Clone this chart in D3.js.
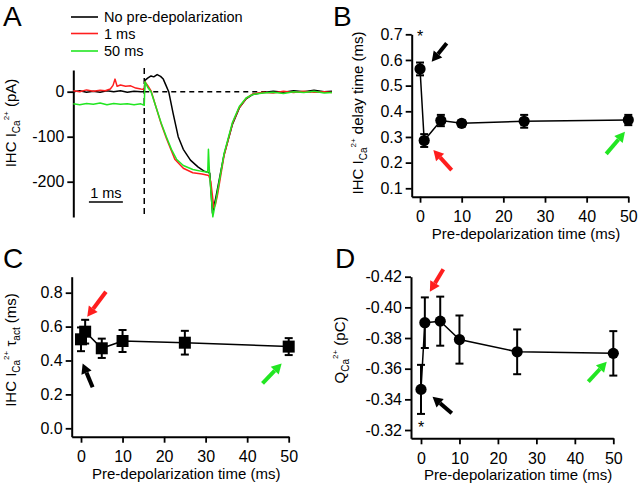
<!DOCTYPE html>
<html><head><meta charset="utf-8">
<script src="https://cdn.jsdelivr.net/npm/d3@7"></script>
<style>
html,body{margin:0;padding:0;background:#fff;}
svg text{font-family:'Liberation Sans',Arial,sans-serif;fill:#000;}
</style>
</head><body>
<svg id="chart" width="640" height="488"></svg>
<script>
// ---------- Panel A data: traces [time ms, current pA] ----------
const traceBlack = [[-2.09,0],[-1.9,2],[-1.7,-1],[-1.5,1],[-1.3,-1],[-1.1,2],[-0.9,0],[-0.7,2],[-0.5,-1],[-0.3,1],[-0.1,0],[0,0],[0.02,25],[0.1,30],[0.2,35],[0.28,33],[0.38,38],[0.48,34],[0.56,28],[0.64,14],[0.72,0],[0.85,-48],[1.0,-100],[1.15,-128],[1.36,-152],[1.58,-167],[1.75,-176],[1.93,-181],[2.01,-270],[2.1,-238],[2.35,-140],[2.6,-72],[2.8,-36],[3.0,-16],[3.2,-6],[3.5,-2],[3.8,1],[4.1,-1],[4.4,2],[4.7,0],[5.0,3],[5.3,0],[5.53,1]];
const traceRed = [[-2.09,2],[-1.9,0],[-1.7,4],[-1.5,1],[-1.3,3],[-1.15,2],[-1.0,6],[-0.92,14],[-0.86,28],[-0.8,12],[-0.7,15],[-0.55,12],[-0.4,13],[-0.25,8],[-0.1,6],[0,5],[0.02,22],[0.1,14],[0.2,2],[0.35,-35],[0.5,-72],[0.66,-105],[0.9,-150],[1.15,-170],[1.43,-180],[1.7,-183],[1.9,-186],[1.96,-200],[2.05,-258],[2.1,-250],[2.16,-228],[2.35,-142],[2.6,-70],[2.8,-35],[3.0,-15],[3.2,-5],[3.5,-1],[3.8,-3],[4.1,1],[4.4,-2],[4.7,1],[5.0,-1],[5.3,0],[5.53,-2]];
const traceGreen = [[-2.09,-27],[-1.9,-29],[-1.7,-26],[-1.5,-28],[-1.3,-25],[-1.1,-29],[-0.9,-26],[-0.7,-28],[-0.5,-27],[-0.3,-29],[-0.1,-27],[0,-30],[0.02,22],[0.1,10],[0.2,0],[0.35,-35],[0.5,-70],[0.65,-100],[0.8,-128],[0.95,-150],[1.15,-164],[1.43,-173],[1.7,-177],[1.87,-179],[1.89,-128],[1.92,-178],[2.02,-278],[2.12,-238],[2.35,-138],[2.6,-68],[2.8,-33],[3.0,-14],[3.2,-6],[3.5,-3],[3.8,-1],[4.1,-4],[4.4,0],[4.7,-2],[5.0,1],[5.3,-3],[5.53,-2]];
const legendLabels = ["No pre-depolarization","1 ms","50 ms"];
const traceTicks = [0,-100,-200];
const scaleBarMs = [-1.63,-0.63];

// ---------- Panels B, C, D ----------
const preTimes = [0,1,5,10,25,50];
const xTicks = [0,10,20,30,40,50];
const delayMean = [0.565,0.286,0.364,0.353,0.361,0.366];
const delayErr  = [0.025,0.025,0.022,0.012,0.025,0.02];
const delayTicks = [0.1,0.2,0.3,0.4,0.5,0.6,0.7];
const tauMean = [0.525,0.57,0.472,0.515,0.505,0.482];
const tauErr  = [0.07,0.07,0.057,0.065,0.07,0.05];
const tauTicks = [0.0,0.2,0.4,0.6,0.8];
const qMean = [-0.3465,-0.390,-0.391,-0.379,-0.371,-0.370];
const qErr  = [0.016,0.0165,0.016,0.0157,0.0146,0.0145];
const qTicks = [-0.42,-0.40,-0.38,-0.36,-0.34,-0.32];

const RED = "#ff1e1e", GREEN = "#22e622", BLACK = "#000";
const svg = d3.select("#chart");

function styleAxis(g){
  g.selectAll("path.domain").attr("stroke","#000").attr("stroke-width",2);
  g.selectAll(".tick line").attr("stroke","#000").attr("stroke-width",1.8);
  g.selectAll(".tick text").attr("font-size",16).attr("font-family","'Liberation Sans',Arial,sans-serif").attr("fill","#000");
}
function arrow(g, x, y, tail, tip, color){
  const x1=x(tail[0]), y1=y(tail[1]), x2=x(tip[0]), y2=y(tip[1]);
  const ang=Math.atan2(y2-y1,x2-x1), hl=10, hw=5.5;
  const bx=x2-hl*Math.cos(ang), by=y2-hl*Math.sin(ang);
  g.append("line").attr("x1",x1).attr("y1",y1).attr("x2",bx).attr("y2",by)
    .attr("stroke",color).attr("stroke-width",4);
  g.append("path").attr("d",`M${x2},${y2}L${bx+hw*Math.sin(ang)},${by-hw*Math.cos(ang)}L${bx-hw*Math.sin(ang)},${by+hw*Math.cos(ang)}Z`)
    .attr("fill",color);
}
function yTitle(cx, cy, parts){
  const t = svg.append("text").attr("transform",`translate(${cx},${cy}) rotate(-90)`)
    .attr("text-anchor","middle").attr("font-size",15);
  parts.forEach(p=>{
    const s=t.append("tspan").text(p.t);
    if(p.dy) s.attr("dy",p.dy);
    if(p.fs) s.attr("font-size",p.fs);
  });
}
function panelLabel(x,y,txt){
  svg.append("text").attr("x",x).attr("y",y).attr("font-size",28).text(txt);
}

// ================= Panel A =================
const xA = d3.scaleLinear().domain([-2.09,5.53]).range([73.3,332]);
const yA = d3.scaleLinear().domain([-278.4,48.2]).range([217,70]);
const gA = svg.append("g");
const axA = gA.append("g").attr("transform",`translate(${xA(-2.09)},0)`)
  .call(d3.axisLeft(yA).tickValues(traceTicks).tickSize(6).tickSizeOuter(0).tickPadding(3).tickFormat(d=>String(d)));
styleAxis(axA);
gA.append("line").attr("x1",xA(0)).attr("x2",xA(5.53)).attr("y1",yA(0)).attr("y2",yA(0))
  .attr("stroke","#000").attr("stroke-width",1.5).attr("stroke-dasharray","5,4");
gA.append("line").attr("x1",xA(0)).attr("x2",xA(0)).attr("y1",68).attr("y2",218)
  .attr("stroke","#000").attr("stroke-width",1.5).attr("stroke-dasharray","6,4");
const lineA = d3.line().x(d=>xA(d[0])).y(d=>yA(d[1]));
[[traceBlack,BLACK],[traceRed,RED],[traceGreen,GREEN]].forEach(([d,c])=>{
  gA.append("path").datum(d).attr("d",lineA).attr("fill","none").attr("stroke",c).attr("stroke-width",1.5).attr("stroke-linejoin","round");
});
legendLabels.forEach((lab,i)=>{
  const ly=[17,33.5,51][i];
  gA.append("line").attr("x1",71).attr("x2",98).attr("y1",ly).attr("y2",ly).attr("stroke",[BLACK,RED,GREEN][i]).attr("stroke-width",1.6);
  gA.append("text").attr("x",104).attr("y",ly+5).attr("font-size",14.5).text(lab);
});
gA.append("line").attr("x1",xA(scaleBarMs[0])).attr("x2",xA(scaleBarMs[1])).attr("y1",202).attr("y2",202).attr("stroke","#000").attr("stroke-width",1.6);
gA.append("text").attr("x",(xA(scaleBarMs[0])+xA(scaleBarMs[1]))/2).attr("y",198).attr("text-anchor","middle").attr("font-size",14.5).text("1 ms");
yTitle(16,123,[{t:"IHC I"},{t:"Ca",dy:4,fs:10},{t:"2+",dy:-11,fs:8},{t:" (pA)",dy:7}]);
panelLabel(3,26,"A");

function scatterPanel(opt){
  const g = svg.append("g");
  const x = d3.scaleLinear().domain(opt.xDom).range(opt.xRange);
  const y = d3.scaleLinear().domain(opt.yDom).range(opt.yRange);
  const ax = g.append("g").attr("transform",`translate(0,${opt.yRange[0]})`)
    .call(d3.axisBottom(x).tickValues(xTicks).tickSize(6).tickSizeOuter(0).tickPadding(8));
  styleAxis(ax);
  const ay = g.append("g").attr("transform",`translate(${opt.xRange[0]},0)`)
    .call(d3.axisLeft(y).tickValues(opt.yTicks).tickSize(6).tickSizeOuter(0).tickPadding(3).tickFormat(opt.fmt));
  styleAxis(ay);
  const pts = preTimes.map((t,i)=>({t, m:opt.mean[i], e:opt.err[i]}));
  g.append("path").datum(pts).attr("d",d3.line().x(d=>x(d.t)).y(d=>y(d.m)))
    .attr("fill","none").attr("stroke","#000").attr("stroke-width",1.5);
  pts.forEach(d=>{
    g.append("line").attr("x1",x(d.t)).attr("x2",x(d.t)).attr("y1",y(d.m-d.e)).attr("y2",y(d.m+d.e)).attr("stroke","#000").attr("stroke-width",2);
    [d.m-d.e,d.m+d.e].forEach(v=>g.append("line").attr("x1",x(d.t)-4).attr("x2",x(d.t)+4).attr("y1",y(v)).attr("y2",y(v)).attr("stroke","#000").attr("stroke-width",2));
    if(opt.square) g.append("rect").attr("x",x(d.t)-6).attr("y",y(d.m)-6).attr("width",12).attr("height",12).attr("fill","#000");
    else g.append("circle").attr("cx",x(d.t)).attr("cy",y(d.m)).attr("r",5.6).attr("fill","#000");
  });
  g.append("text").attr("x",(opt.xRange[0]+opt.xRange[1])/2+6).attr("y",opt.yRange[0]+42)
    .attr("text-anchor","middle").attr("font-size",15).text("Pre-depolarization time (ms)");
  opt.arrows.forEach(a=>arrow(g,x,y,a[0],a[1],a[2]));
  if(opt.star) g.append("text").attr("x",x(opt.star[0])).attr("y",y(opt.star[1])+9).attr("text-anchor","middle").attr("font-size",16).text("*");
  return {x,y};
}

scatterPanel({xDom:[-2,50], xRange:[411.7,628.3], yDom:[0.0672,0.7], yRange:[196.7,34.3],
  yTicks:delayTicks, fmt:d3.format(".1f"), mean:delayMean, err:delayErr, square:false,
  arrows:[[[6.4,0.665],[2.8,0.593],BLACK],[[7.6,0.171],[3.2,0.249],RED],[[44.7,0.234],[49.2,0.32],GREEN]],
  star:[0,0.704]});
yTitle(363,113,[{t:"IHC I"},{t:"Ca",dy:4,fs:10},{t:"2+",dy:-11,fs:8},{t:" delay time (ms)",dy:7}]);
panelLabel(333,26,"B");

scatterPanel({xDom:[-2.24,50], xRange:[71.7,288.7], yDom:[-0.0496,0.8944], yRange:[436.7,276.7],
  yTicks:tauTicks, fmt:d3.format(".1f"), mean:tauMean, err:tauErr, square:true,
  arrows:[[[6.0,0.806],[1.5,0.658],RED],[[2.8,0.242],[0.4,0.383],BLACK],[[43.7,0.265],[48.3,0.383],GREEN]]});
yTitle(16,350,[{t:"IHC I"},{t:"Ca",dy:4,fs:10},{t:"2+",dy:-11,fs:8},{t:" τ",dy:7},{t:"act",dy:4,fs:10},{t:" (ms)",dy:-4}]);
panelLabel(3,268,"C");

scatterPanel({xDom:[-2.6,50], xRange:[411,613.3], yDom:[-0.3146,-0.42], yRange:[438.3,276.7],
  yTicks:qTicks, fmt:d=>d.toFixed(2), mean:qMean, err:qErr, square:false,
  arrows:[[[5.8,-0.4248],[2.3,-0.4102],RED],[[8.0,-0.3309],[3.0,-0.3417],BLACK],[[43.5,-0.3515],[48.3,-0.3646],GREEN]],
  star:[0,-0.3242]});
yTitle(345,350,[{t:"Q"},{t:"Ca",dy:4,fs:10},{t:"2+",dy:-11,fs:8},{t:" (pC)",dy:7}]);
panelLabel(335,268,"D");
</script>
</body></html>
